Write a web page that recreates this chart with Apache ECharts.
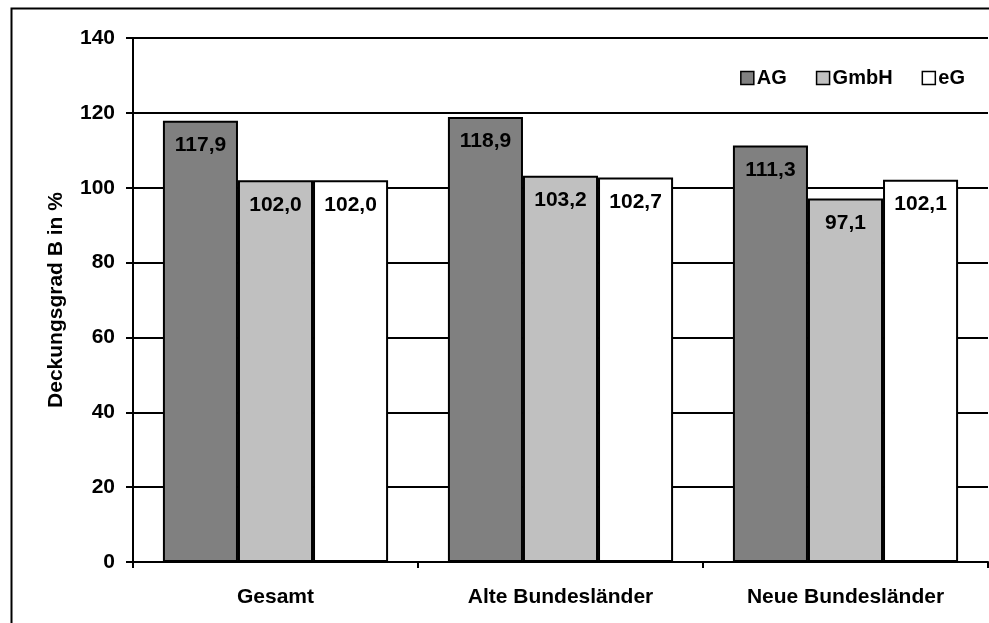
<!DOCTYPE html>
<html><head><meta charset="utf-8">
<script src="https://cdn.jsdelivr.net/npm/echarts@6/dist/echarts.min.js"></script>
<style>html,body{margin:0;padding:0;background:#fff}#c{width:989px;height:623px}</style>
</head><body><div id="c"></div>
<script>
const categories = ['Gesamt', 'Alte Bundesländer', 'Neue Bundesländer'];
const seriesNames = ['AG', 'GmbH', 'eG'];
const agValues = [117.9, 118.9, 111.3];
const gmbhValues = [102.0, 103.2, 97.1];
const egValues = [102.0, 102.7, 102.1];
const seriesColors = ['#808080', '#C0C0C0', '#FFFFFF'];
const yTicks = [0, 20, 40, 60, 80, 100, 120, 140];

const font = 'Liberation Sans, Arial, sans-serif';
const chart = echarts.init(document.getElementById('c'), null, {renderer: 'canvas'});
const data = [agValues, gmbhValues, egValues];
chart.setOption({
  animation: false,
  backgroundColor: '#fff',
  graphic: [{
    type: 'rect', left: 9, top: 6, shape: {width: 1100, height: 800},
    style: {fill: 'none', stroke: '#000', lineWidth: 2}, z: 100, silent: true
  }],
  grid: {left: 133, top: 38, right: 1, bottom: 61},
  legend: {
    top: 62, right: 19, itemWidth: 13, itemHeight: 13, itemGap: 29,
    icon: 'rect',
    textStyle: {fontFamily: font, fontWeight: 'bold', fontSize: 20, lineHeight: 22, color: '#000', padding: [0, 0, 0, -2]},
    data: seriesNames.map((n, i) => ({name: n, itemStyle: {color: seriesColors[i], borderColor: '#000', borderWidth: 1.5}}))
  },
  xAxis: {
    type: 'category', data: categories,
    axisLine: {lineStyle: {color: '#000', width: 2}},
    axisTick: {show: true, length: 6, lineStyle: {color: '#000', width: 2}},
    axisLabel: {fontFamily: font, fontWeight: 'bold', fontSize: 21, color: '#000', margin: 25}
  },
  yAxis: {
    type: 'value', min: yTicks[0], max: yTicks[yTicks.length - 1], interval: 20,
    name: 'Deckungsgrad B in %', nameLocation: 'middle', nameGap: 66, nameRotate: 90,
    nameTextStyle: {fontFamily: font, fontWeight: 'bold', fontSize: 21, color: '#000'},
    axisLine: {show: true, lineStyle: {color: '#000', width: 2}},
    axisTick: {show: true, length: 7, lineStyle: {color: '#000', width: 2}},
    axisLabel: {fontFamily: font, fontWeight: 'bold', fontSize: 21, color: '#000', margin: 18},
    splitLine: {show: true, lineStyle: {color: '#000', width: 2}}
  },
  series: seriesNames.map((n, i) => ({
    name: n, type: 'bar', data: data[i],
    barGap: '0%', barCategoryGap: '21%',
    itemStyle: {color: seriesColors[i], borderColor: '#000', borderWidth: 2},
    label: {
      show: true, position: 'insideTop', distance: 14,
      fontFamily: font, fontWeight: 'bold', fontSize: 21, color: '#000',
      formatter: p => p.value.toFixed(1).replace('.', ',')
    }
  }))
});
</script></body></html>
